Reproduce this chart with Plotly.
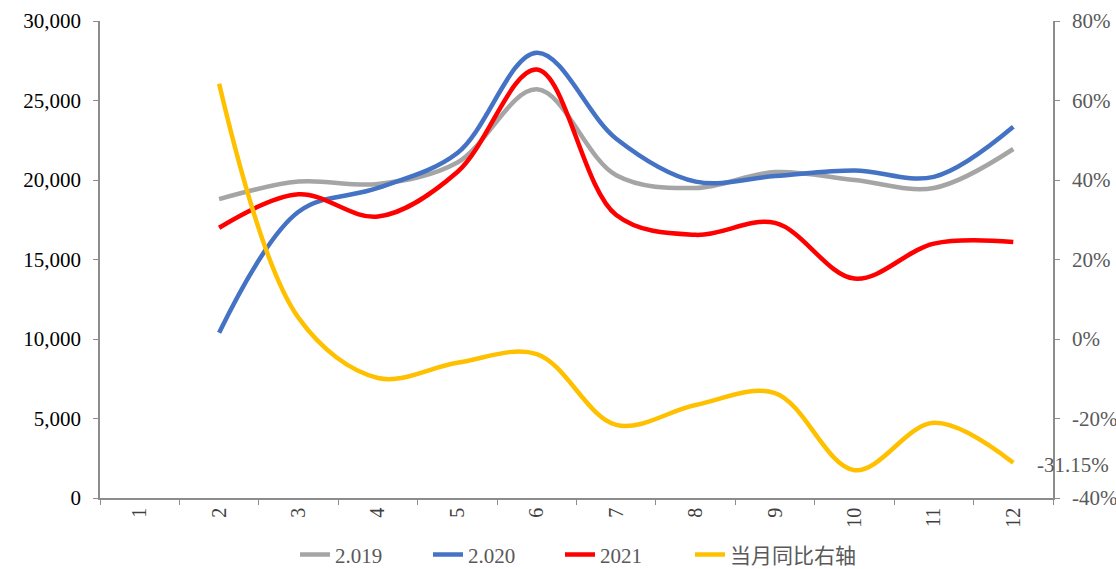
import plotly.graph_objects as go

# Monthly values, month 1 has no data
months = [str(m) for m in range(1, 13)]
sales_2019 = [None, 18800, 19900, 19750, 21100, 25700, 20300, 19500, 20500, 20000, 19500, 21950]
sales_2020 = [None, 10400, 18000, 19500, 21700, 28000, 22600, 19900, 20250, 20600, 20200, 23350]
sales_2021 = [None, 17000, 19100, 17700, 20500, 26950, 17800, 16550, 17300, 13800, 16000, 16100]
yoy_pct = [None, 64.2, 5.3, -9.8, -6.0, -3.8, -21.6, -16.6, -13.6, -33.0, -21.1, -31.15]
pct_ticks = [-40, -20, 0, 20, 40, 60, 80]

series_names = ["2.019", "2.020", "2021", "当月同比右轴"]
colors = ["#A5A5A5", "#4472C4", "#FF0000", "#FFC000"]

FONT = "Liberation Serif, Noto Sans CJK SC"
AXIS_COLOR = "#8C8C8C"
LEGEND_X_PX = [295, 428, 560, 690]  # left edge of each legend entry

legend_ids = ["legend", "legend2", "legend3", "legend4"]

fig = go.Figure()
for name, vals, col, lg in zip(series_names[:3], [sales_2019, sales_2020, sales_2021], colors[:3], legend_ids):
    fig.add_trace(go.Scatter(
        x=months, y=vals, name=name, mode="lines", legend=lg,
        line=dict(color=col, width=4.5, shape="spline", smoothing=1.0),
    ))
fig.add_trace(go.Scatter(
    x=months, y=yoy_pct, name=series_names[3], mode="lines", yaxis="y2", legend=legend_ids[3],
    line=dict(color=colors[3], width=4.5, shape="spline", smoothing=1.0),
))

# Label on the last YoY value (category index of the last month)
last_idx = len(months) - 1
fig.add_annotation(
    x=last_idx, y=yoy_pct[last_idx], xref="x", yref="y2",
    text=f"{yoy_pct[last_idx]:.2f}%", showarrow=False,
    xanchor="left", xshift=22, yshift=-2,
    font=dict(family=FONT, size=21, color="#595959"),
)

legend_layout = {}
for lg, px in zip(legend_ids, LEGEND_X_PX):
    legend_layout[lg] = dict(
        orientation="h", xref="container", x=px / 1116, xanchor="left",
        yref="container", y=0.025, yanchor="middle",
        font=dict(family=FONT, size=21, color="#595959"),
        bgcolor="rgba(0,0,0,0)",
    )

fig.update_layout(
    width=1116, height=569,
    margin=dict(l=100, r=63, t=21, b=71),
    plot_bgcolor="white", paper_bgcolor="white",
    font=dict(family=FONT, size=21, color="#595959"),
    xaxis=dict(
        type="category", range=[-0.5, 11.5], automargin=False,
        showline=True, linecolor=AXIS_COLOR, linewidth=1.5,
        ticks="outside", tickson="boundaries", ticklen=5, tickcolor=AXIS_COLOR,
        tickangle=-90, showgrid=False, zeroline=False,
        tickfont=dict(family=FONT, size=20, color="#404040"),
    ),
    yaxis=dict(
        range=[0, 30000], dtick=5000, tickformat=",", automargin=False,
        showline=True, linecolor=AXIS_COLOR, linewidth=1.5,
        ticks="outside", ticklen=5, tickcolor=AXIS_COLOR,
        showgrid=False, zeroline=False,
        tickfont=dict(family=FONT, size=21, color="#000000"),
        ticklabelstandoff=8,
    ),
    yaxis2=dict(
        overlaying="y", side="right", automargin=False,
        range=[-40, 80],
        tickmode="array", tickvals=pct_ticks, ticktext=[f"{v}%" for v in pct_ticks],
        showline=True, linecolor=AXIS_COLOR, linewidth=1.5,
        ticks="outside", ticklen=5, tickcolor=AXIS_COLOR,
        showgrid=False, zeroline=False,
        tickfont=dict(family=FONT, size=21, color="#595959"),
        ticklabelstandoff=8,
    ),
    showlegend=True,
    **legend_layout,
)

fig.write_html("out.html")
